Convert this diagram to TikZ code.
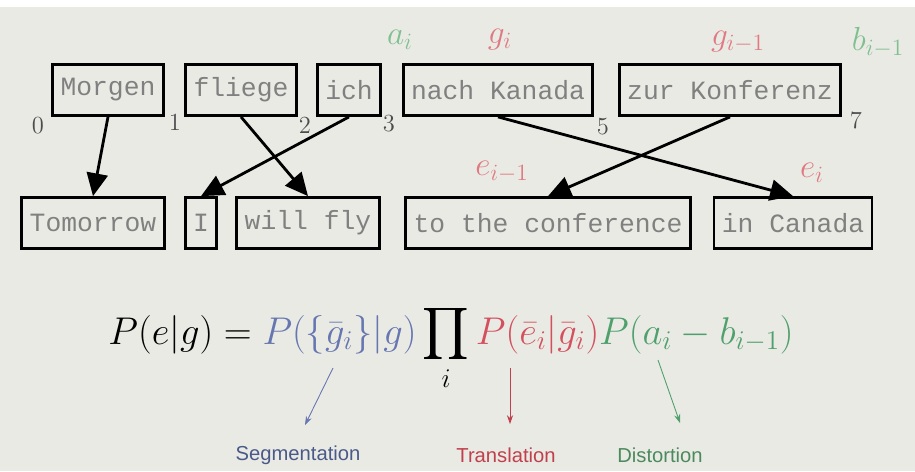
\documentclass[tikz,border=0pt]{standalone}
\usepackage{fix-cm}
\usepackage{amsmath}
\usepackage{fontspec}
\newfontfamily\boxfont{Liberation Mono}
\newfontfamily\labfont{Liberation Sans}
\usetikzlibrary{arrows.meta}
\definecolor{bg}{HTML}{EAEAE5}
\definecolor{wordgray}{HTML}{808080}
\definecolor{segblue}{HTML}{6676B0}
\definecolor{trared}{HTML}{D4505E}
\definecolor{disgreen}{HTML}{4FA06C}
\definecolor{lightred}{HTML}{E07A82}
\definecolor{lightgreen}{HTML}{80C090}
\definecolor{seglab}{HTML}{4A5A88}
\definecolor{tralab}{HTML}{C0404C}
\definecolor{dislab}{HTML}{4A8A5C}
\tikzset{
    word/.style={draw, line width=1.6pt, inner xsep=4.5pt, minimum height=29pt, text=wordgray, font=\boxfont\fontsize{15}{15}\selectfont}, % Kasten um ein Wort
    link/.style={line width=1.6pt, -{Triangle[length=13pt, width=12pt]}}, % Zuordnungspfeil
    posnum/.style={text=black!70, font=\fontsize{14}{14}\selectfont}, % Position zwischen den Woertern
    idx/.style={font=\fontsize{19}{19}\selectfont}, % Indexbeschriftung
    part/.style={line width=0.5pt, -{Stealth[length=5pt, width=3.5pt]}}, % duenner Pfeil zum Term
    term/.style={font=\labfont\fontsize{11.5}{12}\selectfont} % Name des Terms
}
\begin{document}
\begin{tikzpicture}[x=0.02cm, y=-0.02cm]
    \fill[bg] (0,0) rectangle (915,471);
    \fill[white] (0,0) rectangle (915,7);

    % Quellsatz
    \foreach \name/\x/\txt in {morgen/108/Morgen, fliege/241/fliege, ich/349/ich, nach/498/nach Kanada, zur/730/zur Konferenz}
        {\node[word] (\name) at (\x,90) {\txt};}
    % Zielsatz
    \foreach \name/\x/\txt in {tomorrow/93/Tomorrow, I/201/I, willfly/308/will fly, conf/548/to the conference, canada/793/in Canada}
        {\node[word] (\name) at (\x,223) {\txt};}

    \foreach \name/\x/\y/\txt in {p0/38/126/0, p1/175/122/1, p2/305/125/2, p3/389/124/3, p5/603/127/5, p7/856/120/7}
        {\node[posnum] (\name) at (\x,\y) {\txt};}

    \draw[link] (morgen.south) -- (tomorrow.north);
    \draw[link] (fliege.south) -- (willfly.north);
    \draw[link] (ich.south) -- (I.north);
    \draw[link] (nach.south) -- (canada.north);
    \draw[link] (zur.south) -- (conf.north);

    \node[idx, text=lightgreen] (ai) at (400,40) {$a_i$};
    \node[idx, text=lightred] (gi) at (500,40) {$g_i$};
    \node[idx, text=lightred] (gim) at (738,42) {$g_{i-1}$};
    \node[idx, text=lightgreen] (bim) at (878,42) {$b_{i-1}$};
    \node[idx, text=lightred] (eim) at (502,172) {$e_{i-1}$};
    \node[idx, text=lightred] (ei) at (812,173) {$e_i$};

    \node[anchor=base, font=\fontsize{22}{26}\selectfont] (prob) at (451,344)
        {$\displaystyle P(e|g) = \textcolor{segblue}{P(\{\bar{g}_i\}|g)} \prod_i \textcolor{trared}{P(\bar{e}_i|\bar{g}_i)}\textcolor{disgreen}{P(a_i-b_{i-1})}$};

    \node[term, text=seglab] (seg) at (298,455) {Segmentation};
    \node[term, text=tralab] (tra) at (506,455) {Translation};
    \node[term, text=dislab] (dis) at (660,455) {Distortion};

    \coordinate (segfrom) at (333,368); \coordinate (segto) at (305,425);
    \coordinate (trafrom) at (510,368); \coordinate (trato) at (510,424);
    \coordinate (disfrom) at (658,360); \coordinate (disto) at (680,423);
    \draw[part, segblue] (segfrom) -- (segto);
    \draw[part, tralab] (trafrom) -- (trato);
    \draw[part, disgreen] (disfrom) -- (disto);
\end{tikzpicture}
\end{document}
